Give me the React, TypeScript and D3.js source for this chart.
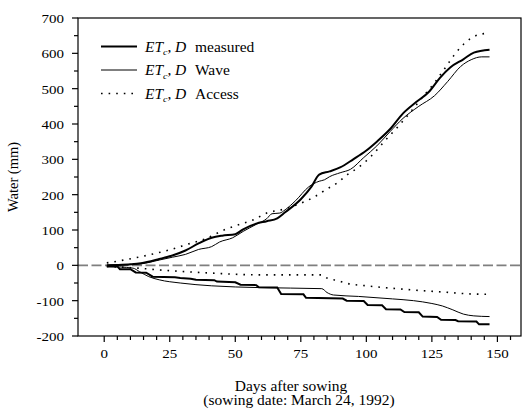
import { scaleLinear, line, curveMonotoneX, range } from 'd3'

const width = 522
const height = 410
const frame = { left: 78, right: 521, top: 18, bottom: 336 }

// [day, water mm]
const measuredUp: [number, number][] = [[1,0],[5,1],[10,3],[14,6],[21,18],[26,28],[31,42],[36,62],[41,78],[45,84],[50,88],[53,102],[58,118],[62,125],[66,133],[69,150],[75,187],[79,222],[82,257],[86,266],[90,277],[95,300],[100,325],[104,350],[109,385],[114,430],[119,462],[124,492],[128,530],[132,560],[137,583],[141,602],[147,610]]
const waveUp: [number, number][] = [[1,0],[5,1],[10,2],[14,4],[21,15],[26,23],[31,31],[36,45],[41,53],[44,66],[49,78],[53,96],[58,116],[62,132],[64,146],[67,148],[69,157],[73,183],[78,222],[82,238],[84,242],[86,251],[90,262],[94,272],[99,305],[104,338],[109,378],[114,416],[120,450],[126,480],[131,520],[136,563],[140,582],[144,590],[147,590]]
const accessUp: [number, number][] = [[1,7],[6,13],[11,20],[18,31],[25,44],[32,60],[39,76],[45,98],[50,112],[57,129],[62,148],[68,158],[73,170],[80,193],[85,216],[89,234],[93,258],[97,277],[102,310],[107,352],[112,392],[117,435],[121,472],[126,517],[130,558],[134,600],[137,625],[140,643],[143,653],[147,657]]
const measuredLow: [number, number][] = [[1,-3],[5,-3],[6,-11],[10,-11],[12,-20],[16,-21],[18.5,-32],[27,-34],[29,-36],[33,-38],[35,-41],[42,-42],[43,-46],[50,-48],[52,-55],[58,-56],[59,-62],[66,-63],[67.5,-81],[76,-82],[77,-92],[91,-94],[92.5,-100],[99,-101],[100.5,-112],[106,-113],[107.5,-124],[113,-125],[114.5,-132],[120,-133],[121.5,-145],[127,-146],[128.5,-154],[134,-155],[135,-158],[142,-159],[143,-167],[147,-167]]
const waveLow: [number, number][] = [[1,-3],[11,-8],[13.5,-18],[17,-32],[21,-41],[29,-50],[41,-58],[59,-63],[83,-66],[85,-77],[87.5,-84],[97,-88],[110,-95],[118,-100],[125,-108],[129,-115],[133,-126],[137,-138],[141,-143],[147,-145]]
const accessLow: [number, number][] = [[1,-3],[13,-8],[21,-13],[31,-18],[41,-22],[59,-27],[83,-27],[85,-36],[89,-43],[92,-50],[100,-58],[110,-65],[120,-71],[130,-76],[140,-81],[147,-82]]

const xTicks = [0, 25, 50, 75, 100, 125, 150]
const yTicks = [-200, -100, 0, 100, 200, 300, 400, 500, 600, 700]
const legendLabels = ['measured', 'Wave', 'Access']

const font = 'Liberation Serif, DejaVu Serif, serif'

function Txt({ x, y, anchor = 'start', size = 15, children }: any) {
    return (
        <text transform={`translate(${x},${y}) scale(1,0.88)`} textAnchor={anchor} style={{ fontFamily: font, fontSize: size }} fill="#000">
            {children}
        </text>
    )
}

function App() {
    const xScale = scaleLinear().domain([-10, 159]).range([frame.left, frame.right])
    const yScale = scaleLinear().domain([-200, 700]).range([frame.bottom, frame.top])
    const path = line<[number, number]>()
        .x(d => xScale(d[0]))
        .y(d => yScale(d[1]))
    const smooth = line<[number, number]>()
        .x(d => xScale(d[0]))
        .y(d => yScale(d[1]))
        .curve(curveMonotoneX)

    const styles = [
        { strokeWidth: 2, dash: undefined },
        { strokeWidth: 1, dash: undefined },
        { strokeWidth: 1.6, dash: '1.6 6' },
    ]
    const legendY = [46.5, 70, 93.5]

    return (
        <svg width={width} height={height} style={{ position: 'absolute', left: 0, top: 0 }}>
            <rect width={width} height={height} fill="#fff" />
            {/* zero line */}
            <line x1={frame.left} x2={frame.right} y1={yScale(0)} y2={yScale(0)} stroke="#7f7f7f" strokeWidth={1.8} strokeDasharray="10 3.5" />

            <path d={smooth(accessUp) || ''} fill="none" stroke="#000" strokeWidth={1.6} strokeDasharray="1.6 6" />
            <path d={smooth(accessLow) || ''} fill="none" stroke="#000" strokeWidth={1.6} strokeDasharray="1.6 6" />
            <path d={smooth(waveUp) || ''} fill="none" stroke="#000" strokeWidth={1} />
            <path d={smooth(waveLow) || ''} fill="none" stroke="#000" strokeWidth={1} />
            <path d={smooth(measuredUp) || ''} fill="none" stroke="#000" strokeWidth={2} />
            <path d={path(measuredLow) || ''} fill="none" stroke="#000" strokeWidth={2} />

            {/* frame */}
            <rect x={frame.left} y={frame.top} width={frame.right - frame.left} height={frame.bottom - frame.top} fill="none" stroke="#000" strokeWidth={1.2} />

            {/* y axis */}
            {range(-200, 701, 50).map(v => (
                <line key={v} x1={frame.left} x2={frame.left - (v % 100 === 0 ? 6 : 4)} y1={yScale(v)} y2={yScale(v)} stroke="#000" strokeWidth={1.2} />
            ))}
            {yTicks.map(v => (
                <Txt key={v} x={64} y={yScale(v) + 5} anchor="end" size={15}>{v}</Txt>
            ))}

            {/* x axis */}
            {range(0, 156, 5).map(v => (
                <line key={v} x1={xScale(v)} x2={xScale(v)} y1={frame.bottom} y2={frame.bottom + (v % 25 === 0 ? 6 : 4)} stroke="#000" strokeWidth={1.2} />
            ))}
            {xTicks.map(v => (
                <Txt key={v} x={xScale(v)} y={358} anchor="middle" size={15}>{v}</Txt>
            ))}

            <text transform="translate(18,177) rotate(-90)" textAnchor="middle" style={{ fontFamily: font, fontSize: 14.5 }}>Water (mm)</text>
            <Txt x={291} y={391} anchor="middle" size={15.5}>Days after sowing</Txt>
            <Txt x={299} y={405} anchor="middle" size={15.5}>(sowing date: March 24, 1992)</Txt>

            {/* legend */}
            {legendLabels.map((lab, i) => (
                <g key={lab}>
                    <line x1={101} x2={137} y1={legendY[i]} y2={legendY[i]} stroke="#000" strokeWidth={styles[i].strokeWidth} strokeDasharray={styles[i].dash} />
                    <Txt x={145} y={legendY[i] + 5} size={15.5}>
                        <tspan fontStyle="italic">ET</tspan>
                        <tspan fontStyle="italic" fontSize={10} dy={4}>c</tspan>
                        <tspan dy={-4}>,</tspan>
                        <tspan x={30} fontStyle="italic">D</tspan>
                        <tspan x={50}>{lab}</tspan>
                    </Txt>
                </g>
            ))}
        </svg>
    )
}

export default App
